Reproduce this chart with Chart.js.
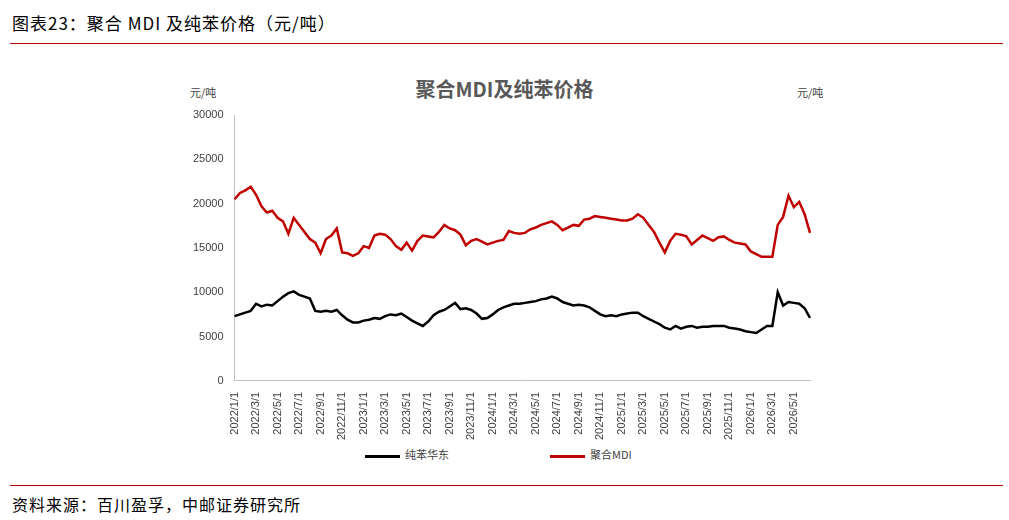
<!DOCTYPE html>
<html><head><meta charset="utf-8">
<script src="https://cdn.jsdelivr.net/npm/chart.js@4/dist/chart.umd.min.js"></script>
<style>
body{margin:0;width:1009px;height:520px;background:#fff;position:relative;font-family:"Noto Sans CJK SC",sans-serif;overflow:hidden}
.hdr{position:absolute;left:12px;top:10px;font-size:17px;color:#000;letter-spacing:1px}
.ln{position:absolute;left:10px;width:993px;height:1px;background:#c00000}
.ftr{position:absolute;left:12px;top:492px;font-size:16px;color:#000;letter-spacing:1px}
.t{position:absolute;font-size:11px;color:#404040}
#ttl{position:absolute;left:0;width:1009px;top:74px;text-align:center;font-size:20px;font-weight:bold;color:#595959}
#wrap{position:absolute;left:150px;top:105px;width:700px;height:338px}
.lg{position:absolute;top:446px;font-size:11px;color:#404040}
.lg span{display:inline-block;width:35px;height:3px;vertical-align:middle;margin-right:5px}
</style></head><body>
<div class="hdr">图表23：聚合 MDI 及纯苯价格（元/吨）</div>
<div class="ln" style="top:43px"></div>
<div id="ttl">聚合MDI及纯苯价格</div>
<div class="t" style="left:190px;top:84px">元/吨</div>
<div class="t" style="left:797px;top:84px">元/吨</div>
<div id="wrap"><canvas id="c"></canvas></div>
<div class="lg" style="left:365px"><span style="background:#000"></span>纯苯华东</div>
<div class="lg" style="left:550px"><span style="background:#c00000"></span>聚合MDI</div>
<div class="ln" style="top:485px"></div>
<div class="ftr">资料来源：百川盈孚，中邮证券研究所</div>
<script>
const labels=[];
for(let y=2022;y<=2026;y++)for(let m=1;m<=12;m++)for(const d of[1,16]){if(labels.length<108)labels.push(y+'/'+m+'/'+d);}
const benzene=[7300,7500,7700,7900,8700,8400,8600,8500,9000,9500,9900,10100,9700,9500,9300,7900,7800,7900,7800,8000,7400,6900,6600,6600,6800,6900,7100,7000,7300,7500,7400,7600,7200,6800,6500,6200,6700,7400,7800,8000,8400,8800,8100,8200,8000,7600,7000,7100,7500,8000,8300,8500,8700,8700,8800,8900,9000,9200,9300,9500,9300,8900,8700,8500,8600,8500,8300,7900,7500,7300,7400,7300,7500,7600,7700,7700,7300,7000,6700,6400,6000,5800,6200,5900,6100,6200,6000,6100,6100,6200,6200,6200,6000,5900,5800,5600,5500,5400,5800,6200,6200,10000,8500,8900,8800,8700,8200,7100];
const mdi=[20500,21200,21500,21900,21000,19700,19000,19200,18400,18000,16600,18400,17600,16800,16000,15600,14400,16000,16400,17200,14500,14400,14100,14400,15200,15000,16400,16600,16500,16000,15200,14800,15600,14700,15800,16400,16300,16200,16800,17600,17200,17000,16500,15300,15800,16000,15700,15400,15600,15800,15900,16900,16700,16600,16700,17100,17300,17600,17800,18000,17600,17000,17300,17600,17500,18200,18300,18600,18500,18400,18300,18200,18100,18100,18300,18800,18400,17600,16800,15600,14500,15800,16600,16500,16300,15400,15900,16400,16100,15800,16200,16300,15900,15600,15500,15400,14600,14300,14000,14000,14000,17600,18500,20900,19600,20200,18800,16200,16700].slice(0,107).concat([16700]);
new Chart(document.getElementById('c'),{type:'line',
data:{labels,datasets:[
{label:'纯苯华东',data:benzene,borderColor:'#000',borderWidth:2.5,pointRadius:0,tension:0},
{label:'聚合MDI',data:mdi,borderColor:'#c00000',borderWidth:2.5,pointRadius:0,tension:0}]},
options:{responsive:true,maintainAspectRatio:false,animation:false,
layout:{padding:{left:40,right:40,top:10}},
plugins:{legend:{display:false},tooltip:{enabled:false}},
scales:{x:{grid:{display:false},border:{color:'#bfbfbf'},ticks:{autoSkip:false,maxRotation:90,minRotation:90,color:'#404040',font:{size:11},
callback:(v,i)=>{const p=labels[i].split('/');return (p[2]==='1'&&(+p[1])%2===1)?labels[i]:'';}}},
y:{min:0,max:30000,grid:{display:false},border:{color:'#bfbfbf'},ticks:{stepSize:5000,color:'#404040',font:{size:11},callback:v=>String(v)}}}}});
</script></body></html>
